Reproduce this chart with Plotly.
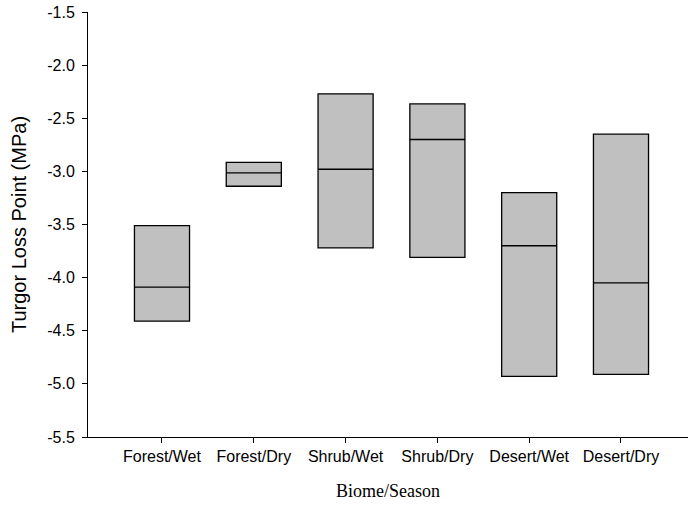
import plotly.graph_objects as go

categories = ["Forest/Wet", "Forest/Dry", "Shrub/Wet", "Shrub/Dry", "Desert/Wet", "Desert/Dry"]
q3_vals = [-3.51, -2.915, -2.27, -2.365, -3.20, -2.65]
median_vals = [-4.09, -3.015, -2.98, -2.70, -3.70, -4.05]
q1_vals = [-4.41, -3.14, -3.72, -3.81, -4.93, -4.91]
y_ticks = [-5.5, -5.0, -4.5, -4.0, -3.5, -3.0, -2.5, -2.0, -1.5]

fig = go.Figure()
fig.add_trace(go.Box(
    x=categories,
    q1=q1_vals,
    median=median_vals,
    q3=q3_vals,
    lowerfence=q1_vals,
    upperfence=q3_vals,
    width=0.6,
    whiskerwidth=0,
    fillcolor="#c0c0c0",
    line=dict(color="black", width=1.3),
    boxpoints=False,
    showlegend=False,
    hoverinfo="skip",
))

fig.update_layout(
    width=688, height=508,
    margin=dict(l=88, r=0, t=12, b=71),
    paper_bgcolor="white",
    plot_bgcolor="white",
    font=dict(family="Liberation Sans, Arial", size=16, color="black"),
    xaxis=dict(
        type="category",
        range=[-0.806, 5.73],
        showline=True, linecolor="black", linewidth=1,
        ticks="outside", ticklen=5, tickcolor="black",
        showgrid=False, zeroline=False,
        tickfont=dict(family="Liberation Sans, Arial", size=16),
        title=dict(text="Biome/Season", font=dict(family="Liberation Serif, Times New Roman", size=18), standoff=20),
    ),
    yaxis=dict(
        range=[-5.5, -1.5],
        tickvals=y_ticks,
        ticktext=[f"{v:.1f}" for v in y_ticks],
        showline=True, linecolor="black", linewidth=1,
        ticks="outside", ticklen=5, tickcolor="black",
        ticklabelstandoff=4,
        showgrid=False, zeroline=False,
        tickfont=dict(family="Liberation Sans, Arial", size=16),
        title=dict(text="Turgor Loss Point (MPa)", font=dict(family="Liberation Sans, Arial", size=20), standoff=15),
    ),
)

fig.write_html("out.html")
